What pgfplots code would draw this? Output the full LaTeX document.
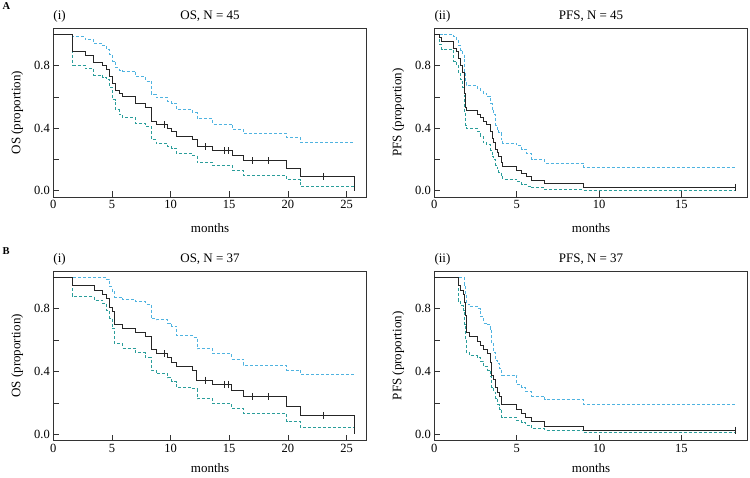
\documentclass[border=0pt]{standalone}
\usepackage{pgfplots}
\usepackage{pgfplotstable}
\pgfplotsset{compat=1.18}
\usepackage{fontspec}
\setmainfont{Liberation Serif}
\definecolor{upc}{HTML}{4FB3E0}
\definecolor{loc}{HTML}{2A9D9A}
\definecolor{kmc}{HTML}{262626}

\pgfplotstableread{
t km up lo
0 1 1 1
1.65 0.889 0.985 0.804
2.7 0.867 0.968 0.783
3.45 0.822 0.943 0.740
4.2 0.800 0.930 0.725
4.55 0.778 0.904 0.709
4.8 0.733 0.870 0.662
5.05 0.689 0.830 0.581
5.3 0.644 0.787 0.517
5.6 0.622 0.772 0.490
5.9 0.600 0.766 0.470
7.0 0.556 0.730 0.432
7.85 0.533 0.702 0.411
8.35 0.444 0.617 0.326
8.75 0.422 0.596 0.304
9.75 0.400 0.573 0.283
10.1 0.378 0.560 0.270
10.5 0.347 0.521 0.236
11.85 0.325 0.502 0.226
12.25 0.282 0.460 0.181
13.6 0.255 0.427 0.160
15.25 0.223 0.394 0.128
16.2 0.191 0.368 0.098
19.9 0.140 0.340 0.070
21.05 0.092 0.308 0.028
25.7 0 0.308 0.028
}\osA

\pgfplotstableread{
t km up lo
0 1 1 1
0.33 0.978 1 0.935
0.45 0.956 1 0.905
1.15 0.911 0.985 0.83
1.35 0.889 0.96 0.80
1.45 0.844 0.93 0.75
1.6 0.800 0.90 0.71
1.72 0.756 0.87 0.66
1.8 0.711 0.84 0.60
1.85 0.622 0.75 0.50
1.9 0.533 0.69 0.42
1.95 0.511 0.675 0.40
2.6 0.489 0.655 0.38
2.8 0.467 0.64 0.35
2.95 0.444 0.625 0.31
3.15 0.422 0.605 0.295
3.4 0.378 0.56 0.26
3.5 0.333 0.52 0.22
3.6 0.311 0.49 0.20
3.7 0.267 0.42 0.165
3.8 0.244 0.395 0.14
3.9 0.222 0.37 0.12
4.05 0.178 0.33 0.09
4.15 0.156 0.305 0.075
5.0 0.133 0.29 0.06
5.3 0.111 0.265 0.04
5.6 0.089 0.24 0.03
5.9 0.067 0.20 0.02
6.7 0.044 0.178 0.01
9.05 0.022 0.152 0.005
18.3 0.022 0.152 0.005
}\pfsA

\pgfplotstableread{
t km up lo
0 1 1 1
1.61 0.946 1 0.88
3.47 0.919 1 0.855
4.19 0.892 1 0.834
4.56 0.865 0.99 0.79
4.81 0.811 0.94 0.74
5.0 0.784 0.91 0.675
5.19 0.703 0.875 0.58
5.9 0.676 0.86 0.55
7.0 0.649 0.845 0.52
7.84 0.622 0.83 0.49
8.33 0.541 0.74 0.41
8.76 0.514 0.73 0.389
9.76 0.487 0.71 0.36
10.1 0.460 0.69 0.335
10.5 0.433 0.63 0.30
11.84 0.406 0.62 0.29
12.24 0.346 0.545 0.227
13.6 0.318 0.515 0.197
15.2 0.282 0.48 0.166
16.2 0.242 0.44 0.134
19.9 0.178 0.41 0.08
21.05 0.121 0.382 0.042
25.7 0 0.382 0.042
}\osB

\pgfplotstableread{
t km up lo
0 1 1 1
1.45 0.946 1 0.85
1.6 0.919 1 0.82
1.75 0.892 1 0.79
1.82 0.838 0.95 0.70
1.87 0.757 0.89 0.60
1.93 0.649 0.83 0.52
2.15 0.622 0.815 0.50
2.6 0.595 0.80 0.49
2.8 0.568 0.75 0.465
2.97 0.541 0.71 0.43
3.25 0.514 0.70 0.41
3.4 0.459 0.67 0.37
3.48 0.378 0.58 0.30
3.6 0.351 0.52 0.27
3.72 0.297 0.47 0.23
3.85 0.270 0.45 0.19
3.97 0.243 0.42 0.16
4.1 0.189 0.378 0.11
5.0 0.162 0.32 0.09
5.3 0.135 0.30 0.075
5.55 0.108 0.272 0.06
5.9 0.081 0.245 0.04
6.7 0.054 0.22 0.028
9.05 0.027 0.191 0.01
18.3 0.027 0.191 0.01
}\pfsB

\pgfplotsset{
  kmaxis/.style={
    scale only axis, width=313.5pt, height=169pt, anchor=south west,
    xmin=0, ymin=-0.04, ymax=1.04,
    ytick={0,0.4,0.8}, yticklabels={0.0,0.4,0.8}, minor ytick={0.2,0.6},
    tick align=inside, xtick pos=bottom, ytick pos=left,
    major tick length=5.5pt, minor tick length=5.5pt,
    every tick/.style={draw=black!80, line width=0.6pt},
    axis line style={draw=black!80, line width=0.7pt},
    tick label style={font=\fontsize{12.5}{14}\selectfont},
    label style={font=\fontsize{13}{15}\selectfont},
    /pgf/number format/assume math mode=true,
    xlabel={months},
    xlabel style={at={(axis description cs:0.5,-0.183)}, anchor=center},
    ylabel style={at={(axis description cs:-0.115,0.5)}, anchor=center},
    clip=false,
  },
  kmline/.style={const plot, draw=kmc, line width=0.8pt, no marks},
  upline/.style={const plot, draw=upc, line width=0.7pt, dash pattern=on 3pt off 2pt, no marks},
  loline/.style={const plot, draw=loc, line width=0.7pt, dash pattern=on 3pt off 2pt, no marks},
  cens/.style={only marks, mark=|, mark size=3.5pt, mark options={draw=kmc, line width=0.7pt}},
}

\begin{document}
\begin{tikzpicture}
\path[use as bounding box] (0,0) rectangle (750pt,477pt);

\node[anchor=base west, font=\bfseries\fontsize{10.5}{12}\selectfont, inner sep=0pt] at (2.5pt,467pt) {A};
\node[anchor=base west, font=\bfseries\fontsize{10.5}{12}\selectfont, inner sep=0pt] at (2.5pt,222.5pt) {B};

% A(i)
\begin{axis}[kmaxis, at={(53.3pt,280pt)}, xmax=26.73, xtick={0,5,10,15,20,25}, ylabel={OS (proportion)}]
\addplot[upline] table[x=t,y=up] {\osA};
\addplot[loline] table[x=t,y=lo] {\osA};
\addplot[kmline] table[x=t,y=km] {\osA};
\addplot[cens] coordinates {(9.5,0.422) (13.0,0.282) (14.55,0.255) (14.95,0.255) (16.95,0.191) (18.35,0.191) (23.0,0.092)};
\node[anchor=base, font=\fontsize{13}{15}\selectfont] at (rel axis cs:0.5,1) [yshift=8pt] {OS, N = 45};
\node[anchor=base west, inner sep=0pt, font=\fontsize{13}{15}\selectfont] at (rel axis cs:0,1) [yshift=8pt] {(i)};
\end{axis}

% A(ii)
\begin{axis}[kmaxis, at={(434.3pt,280pt)}, xmax=19.03, xtick={0,5,10,15}, ylabel={PFS (proportion)}]
\addplot[upline] table[x=t,y=up] {\pfsA};
\addplot[loline] table[x=t,y=lo] {\pfsA};
\addplot[kmline] table[x=t,y=km] {\pfsA};
\addplot[cens] coordinates {(18.3,0.022)};
\node[anchor=base, font=\fontsize{13}{15}\selectfont] at (rel axis cs:0.5,1) [yshift=8pt] {PFS, N = 45};
\node[anchor=base west, inner sep=0pt, font=\fontsize{13}{15}\selectfont] at (rel axis cs:0,1) [yshift=8pt] {(ii)};
\end{axis}

% B(i)
\begin{axis}[kmaxis, at={(53.3pt,36.3pt)}, height=169.7pt, xmax=26.73, xtick={0,5,10,15,20,25}, ylabel={OS (proportion)},
  xlabel style={at={(axis description cs:0.5,-0.163)}, anchor=center}]
\addplot[upline] table[x=t,y=up] {\osB};
\addplot[loline] table[x=t,y=lo] {\osB};
\addplot[kmline] table[x=t,y=km] {\osB};
\addplot[cens] coordinates {(9.5,0.514) (13.0,0.346) (14.55,0.318) (14.95,0.318) (16.95,0.242) (18.35,0.242) (23.0,0.121)};
\node[anchor=base, font=\fontsize{13}{15}\selectfont] at (rel axis cs:0.5,1) [yshift=8pt] {OS, N = 37};
\node[anchor=base west, inner sep=0pt, font=\fontsize{13}{15}\selectfont] at (rel axis cs:0,1) [yshift=8pt] {(i)};
\end{axis}

% B(ii)
\begin{axis}[kmaxis, at={(434.3pt,36.3pt)}, height=169.7pt, xmax=19.03, xtick={0,5,10,15}, ylabel={PFS (proportion)},
  xlabel style={at={(axis description cs:0.5,-0.163)}, anchor=center}]
\addplot[upline] table[x=t,y=up] {\pfsB};
\addplot[loline] table[x=t,y=lo] {\pfsB};
\addplot[kmline] table[x=t,y=km] {\pfsB};
\addplot[cens] coordinates {(18.3,0.027)};
\node[anchor=base, font=\fontsize{13}{15}\selectfont] at (rel axis cs:0.5,1) [yshift=8pt] {PFS, N = 37};
\node[anchor=base west, inner sep=0pt, font=\fontsize{13}{15}\selectfont] at (rel axis cs:0,1) [yshift=8pt] {(ii)};
\end{axis}
\end{tikzpicture}
\end{document}
